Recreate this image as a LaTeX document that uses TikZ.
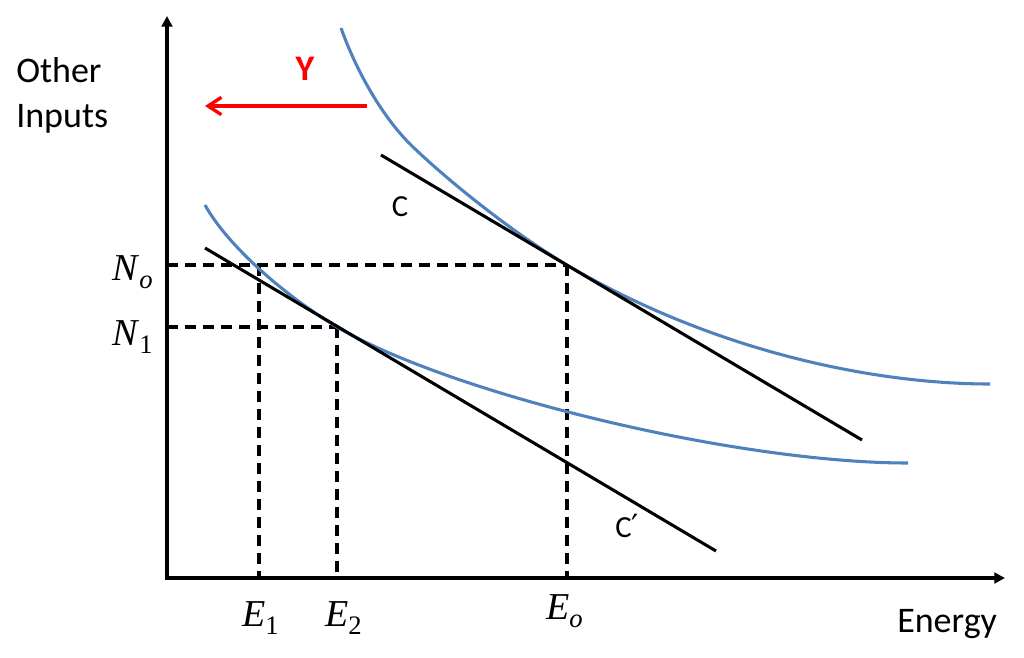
\documentclass[tikz,border=0pt]{standalone}
\usepackage{fontspec}
\usetikzlibrary{arrows.meta}
\newfontfamily\calib{Carlito}
\newfontfamily\tms{Liberation Serif}
\newfontfamily\djv{DejaVu Sans}
\definecolor{curveblue}{HTML}{4F81BD}
\newcommand\sublab[2]{{\tms\fontsize{28.5}{30}\selectfont\textit{#1}\raisebox{-6.5pt}{\fontsize{20}{20}\selectfont #2}}}
\begin{document}
\begin{tikzpicture}[x=0.75pt,y=-0.75pt,
  axis/.style={line width=2.6pt,{Triangle[length=8pt,width=8pt]}-{Triangle[length=8pt,width=8pt]}},
  isoquant/.style={line width=2.3pt,curveblue},
  budget/.style={line width=2.3pt,black},
  guide/.style={line width=2.3pt,dash pattern=on 8.25pt off 5.25pt},
  shiftarrow/.style={line width=2.5pt,red,-{Straight Barb[length=10pt,width=13pt]}},
  sanslab/.style={font=\calib\fontsize{27}{33}\selectfont,inner sep=0pt},
  linelab/.style={font=\calib\fontsize{23}{28}\selectfont,inner sep=0pt},
  mathlab/.style={inner sep=0pt,anchor=base west}]
\useasboundingbox (0,0) rectangle (1024,657);
% axes
\coordinate (O) at (167,578);
\coordinate (ytip) at (167,16);
\coordinate (xtip) at (1005,578);
\draw[axis] (ytip) -- (O) -- (xtip);
% key points
\coordinate (T0) at (567,265);
\coordinate (T1) at (337,327);
\coordinate (X1) at (259,265);
% dashed guides
\draw[guide] (T0 -| O) -- (T0);
\draw[guide] (T0) -- (T0 |- O);
\draw[guide] (T1 -| O) -- (T1);
\draw[guide] (T1) -- (T1 |- O);
\draw[guide] (X1) -- (X1 |- O);
% isoquants
\coordinate (U0) at (341,28);
\coordinate (U1) at (413,147);
\coordinate (U2) at (990,384);
\draw[isoquant] (U0) .. controls (357.4,73.9) and (384.2,119.5) .. (U1)
  .. controls (457.4,189.3) and (520.2,237.3) .. (T0)
  .. controls (707.7,348.3) and (868,384) .. (U2);
\coordinate (L0) at (205,205);
\coordinate (L2) at (908,463);
\draw[isoquant] (L0) .. controls (226.1,243) and (278.9,291.8) .. (T1)
  .. controls (452,394.5) and (737.5,463) .. (L2);
% budget lines
\coordinate (Cs) at (381,155);
\coordinate (Ce) at (862,440);
\coordinate (Cps) at (205,248);
\coordinate (Cpe) at (716,551);
\draw[budget] (Cs) -- (Ce);
\draw[budget] (Cps) -- (Cpe);
% shift arrow
\coordinate (Ys) at (367,106);
\coordinate (Ye) at (205,106);
\draw[shiftarrow] (Ys) -- (Ye);
\node[sanslab,text=red,font=\calib\bfseries\fontsize{27}{33}\selectfont] (Y) at (305,68.5) {Y};
% labels
\node[sanslab,anchor=base west] (yl1) at (16,82) {Other};
\node[sanslab,anchor=base west] (yl2) at (16,127) {Inputs};
\node[sanslab,anchor=base west] (xl) at (897,632) {Energy};
\node[linelab] (Clab) at (400,207) {C};
\node[linelab,anchor=base west] (Cplab) at (615,537) {C{\djv\fontsize{24}{24}\selectfont ′}};
\node[mathlab] (No) at (112,280) {\sublab{N}{\textit{o}}};
\node[mathlab] (N1) at (112,345) {\sublab{N}{1}};
\node[mathlab] (E1) at (242,626) {\sublab{E}{1}};
\node[mathlab] (E2) at (325,626) {\sublab{E}{2}};
\node[mathlab] (Eo) at (546,619) {\sublab{E}{\textit{o}}};
\end{tikzpicture}
\end{document}
